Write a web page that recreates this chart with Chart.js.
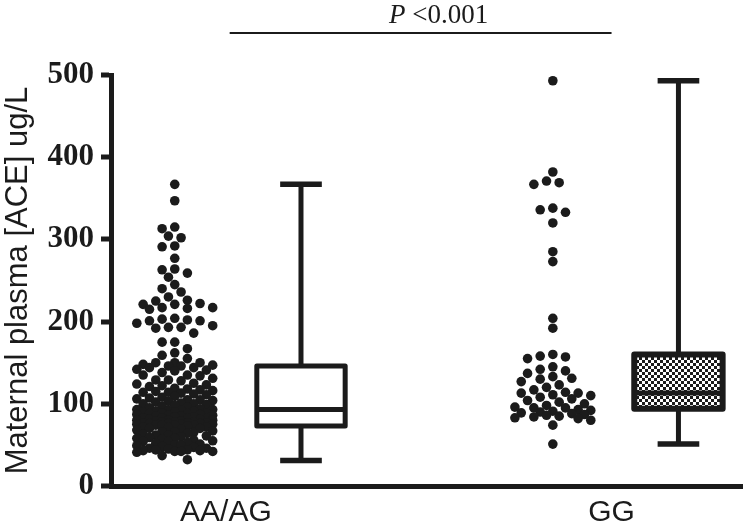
<!DOCTYPE html>
<html>
<head>
<meta charset="utf-8">
<script src="https://cdn.jsdelivr.net/npm/chart.js@4.4.1/dist/chart.umd.min.js"></script>
<style>
  html, body { margin: 0; padding: 0; background: #ffffff; }
  #wrap { width: 747px; height: 531px; }
</style>
</head>
<body>
<div id="wrap"><canvas id="c" width="747" height="531"></canvas></div>
<script>
// ---------------- data ----------------
const CATEGORIES = ['AA/AG', 'GG'];
const Y_TICKS = [0, 100, 200, 300, 400, 500];

const AA_AG_VALUES = [
  367, 347, 315, 313, 304, 302, 292, 291, 277, 264,
  263, 259, 254, 245, 240, 236, 230, 226, 225, 222,
  221, 221, 217, 217, 216, 215, 204, 203, 202, 201,
  201, 198, 195, 193, 193, 192, 186, 175, 175, 167,
  162, 159, 155, 150, 150, 150, 148, 147,
  146, 146, 144, 144, 142, 141, 140, 138, 135, 135,
  134, 131, 129, 129, 128, 125, 124, 123, 122, 121,
  119, 118, 117, 116, 115, 114, 114, 113, 112, 111,
  109, 108, 107, 106, 105, 105, 104, 103, 102, 101,
  100, 100, 99, 98, 97, 96, 95, 94,
  93, 93, 92, 92, 91, 91, 90, 90, 89, 89,
  88, 88, 87, 87, 86, 86, 85, 85, 84, 84,
  83, 83, 82, 82, 81, 81, 80, 80, 80, 79,
  79, 78, 78, 78, 77, 77, 77, 76, 76, 76,
  75, 75, 75, 74, 74, 74, 74, 73,
  72, 72, 71, 70, 70, 69, 68, 67, 66, 66,
  65, 64, 63, 62, 62, 61, 60, 59, 58, 58,
  57, 56, 55, 54, 54, 53, 52, 51, 50, 50,
  49, 48, 47, 46, 46, 45, 44, 44, 43, 43,
  42, 42, 42, 41, 37, 32
];

const GG_VALUES = [
  493, 382, 371, 369, 367, 338, 336, 333, 320, 285,
  273, 204, 192, 160, 158, 157, 155, 145, 142, 140,
  137, 133, 131, 130, 127, 123, 120, 117, 114, 113,
  113, 111, 110, 108, 106, 104, 102, 100, 98, 96,
  95, 95, 93, 92, 91, 90, 89, 88, 87, 86,
  85, 84, 83, 82, 80, 74, 51
];

// box-and-whisker summaries (min, Q1, median, Q3, max) per category
const BOX_MIN    = [31, 51];
const BOX_Q1     = [73, 94];
const BOX_MEDIAN = [93, 113];
const BOX_Q3     = [146, 160];
const BOX_MAX    = [367, 493];

const P_TEXT_ITALIC = 'P';
const P_TEXT_REST = ' <0.001';

// ---------------- layout / style constants ----------------
const INK = '#1b1b1b';
const X_MIN = 0, X_MAX = 100;
const DOT_CENTER_X = [10.1, 70.0];   // x (axis units) of each dot column
const BOX_CENTER_X = [30.1, 89.9];   // x (axis units) of each box
const LABEL_X      = [18.2, 79.3];   // x (axis units) of each category label
const BOX_HALF_W = 7.0, CAP_HALF_W = 3.3;
const BRACKET_X = [18.8, 79.3];
const PX_PER_X = 634 / 100;          // approximate chart-area px per x unit
const PX_PER_Y = 411 / 500;          // approximate chart-area px per y unit
const DOT_R = 4.8;

// beeswarm-like placement (column offsets), computed from the values
function swarm(values, center) {
  const colPx = 12.7;
  const cands = [0, -0.5, 0.5, -1, 1, -1.5, 1.5, -2, 2, -2.5, 2.5, -3, 3];
  const dmin = DOT_R * 2;
  const placed = [];
  const sorted = values.slice().sort((a, b) => b - a);
  for (const v of sorted) {
    let best = 0, bestD = -1;
    for (const c of cands) {
      const px = c * colPx;
      let minD = Infinity;
      for (const p of placed) {
        const dx = px - p.px, dy = (v - p.v) * PX_PER_Y;
        const d = Math.hypot(dx, dy);
        if (d < minD) minD = d;
      }
      if (minD >= dmin) { best = c; bestD = Infinity; break; }
      if (minD > bestD + 0.5) { bestD = minD; best = c; }
    }
    placed.push({ v, px: best * colPx });
  }
  return placed.map(p => ({ x: center + p.px / PX_PER_X, y: p.v }));
}

const ctx = document.getElementById('c').getContext('2d');

function checkerPattern() {
  const c = document.createElement('canvas');
  c.width = 6; c.height = 6;
  const g = c.getContext('2d');
  g.fillStyle = '#ffffff'; g.fillRect(0, 0, 6, 6);
  g.fillStyle = INK; g.fillRect(0, 0, 3, 3); g.fillRect(3, 3, 3, 3);
  return ctx.createPattern(c, 'repeat');
}
const BOX_FILLS = ['#ffffff', checkerPattern()];

const boxPlugin = {
  id: 'boxes',
  afterDatasetsDraw(chart) {
    const xs = chart.scales.x, ys = chart.scales.y, g = chart.ctx;
    g.save();
    g.strokeStyle = INK;
    g.lineJoin = 'round';
    for (let i = 0; i < CATEGORIES.length; i++) {
      const cx = xs.getPixelForValue(BOX_CENTER_X[i]);
      const l = xs.getPixelForValue(BOX_CENTER_X[i] - BOX_HALF_W);
      const r = xs.getPixelForValue(BOX_CENTER_X[i] + BOX_HALF_W);
      const cl = xs.getPixelForValue(BOX_CENTER_X[i] - CAP_HALF_W);
      const cr = xs.getPixelForValue(BOX_CENTER_X[i] + CAP_HALF_W);
      const yMin = ys.getPixelForValue(BOX_MIN[i]);
      const yQ1 = ys.getPixelForValue(BOX_Q1[i]);
      const yMed = ys.getPixelForValue(BOX_MEDIAN[i]);
      const yQ3 = ys.getPixelForValue(BOX_Q3[i]);
      const yMax = ys.getPixelForValue(BOX_MAX[i]);
      // whiskers
      g.lineWidth = 5;
      g.lineCap = 'butt';
      g.beginPath();
      g.moveTo(cx, yQ3); g.lineTo(cx, yMax);
      g.moveTo(cx, yQ1); g.lineTo(cx, yMin);
      g.stroke();
      g.lineWidth = 5.5;
      g.beginPath();
      g.moveTo(cl, yMax); g.lineTo(cr, yMax);
      g.moveTo(cl, yMin); g.lineTo(cr, yMin);
      g.stroke();
      // box
      g.fillStyle = BOX_FILLS[i];
      g.fillRect(l, yQ3, r - l, yQ1 - yQ3);
      g.lineWidth = i === 1 ? 6 : 5;
      g.strokeRect(l, yQ3, r - l, yQ1 - yQ3);
      // median
      g.lineWidth = 5;
      g.beginPath();
      g.moveTo(l, yMed); g.lineTo(r, yMed);
      g.stroke();
    }
    g.restore();
  },
  afterDraw(chart) {
    const xs = chart.scales.x, g = chart.ctx;
    const x1 = xs.getPixelForValue(BRACKET_X[0]);
    const x2 = xs.getPixelForValue(BRACKET_X[1]);
    g.save();
    g.strokeStyle = INK;
    g.lineWidth = 2;
    g.beginPath();
    g.moveTo(x1, 33); g.lineTo(x2, 33);
    g.stroke();
    const fItal = 'italic 27px "Liberation Serif", "Times New Roman", serif';
    const fReg = '27px "Liberation Serif", "Times New Roman", serif';
    g.font = fItal; const w1 = g.measureText(P_TEXT_ITALIC).width;
    g.font = fReg; const w2 = g.measureText(P_TEXT_REST).width;
    const cx = (x1 + x2) / 2 + 18;
    let sx = cx - (w1 + w2) / 2;
    g.fillStyle = INK;
    g.textBaseline = 'alphabetic';
    g.textAlign = 'left';
    g.font = fItal; g.fillText(P_TEXT_ITALIC, sx, 23);
    g.font = fReg; g.fillText(P_TEXT_REST, sx + w1, 23);
    g.restore();
  }
};

new Chart(ctx, {
  type: 'scatter',
  data: {
    datasets: [
      { label: CATEGORIES[0], data: swarm(AA_AG_VALUES, DOT_CENTER_X[0]),
        pointRadius: DOT_R, pointBackgroundColor: INK, pointBorderWidth: 0, pointBorderColor: INK },
      { label: CATEGORIES[1], data: swarm(GG_VALUES, DOT_CENTER_X[1]),
        pointRadius: DOT_R, pointBackgroundColor: INK, pointBorderWidth: 0, pointBorderColor: INK }
    ]
  },
  options: {
    responsive: false,
    animation: false,
    events: [],
    layout: { padding: { top: 75, right: 2, left: 0, bottom: 0 } },
    plugins: { legend: { display: false }, tooltip: { enabled: false } },
    scales: {
      x: {
        type: 'linear', min: X_MIN, max: X_MAX,
        grid: { display: false, drawTicks: false },
        border: { display: true, width: 5, color: INK },
        afterBuildTicks: (s) => { s.ticks = LABEL_X.map(v => ({ value: v })); },
        ticks: {
          autoSkip: false, maxRotation: 0, padding: 9, color: INK,
          font: { family: '"Liberation Sans", Arial, sans-serif', size: 30 },
          callback: (v, i) => CATEGORIES[i]
        },
        afterFit: (s) => { s.height = 45; }
      },
      y: {
        min: 0, max: 500,
        afterBuildTicks: (s) => { s.ticks = Y_TICKS.map(v => ({ value: v })); },
        grid: { display: true, drawOnChartArea: false, drawTicks: true, tickLength: 10, tickWidth: 5, tickColor: INK, lineWidth: 0 },
        border: { display: true, width: 5, color: INK },
        ticks: {
          padding: 7, color: INK,
          font: { family: '"Liberation Serif", "Times New Roman", serif', weight: 'bold', size: 31 }
        },
        title: {
          display: true, text: 'Maternal plasma [ACE] ug/L', color: INK, padding: 0,
          font: { family: '"Liberation Sans", Arial, sans-serif', size: 31 }
        },
        afterFit: (s) => { s.width = 111; }
      }
    }
  },
  plugins: [boxPlugin]
});
</script>
</body>
</html>
